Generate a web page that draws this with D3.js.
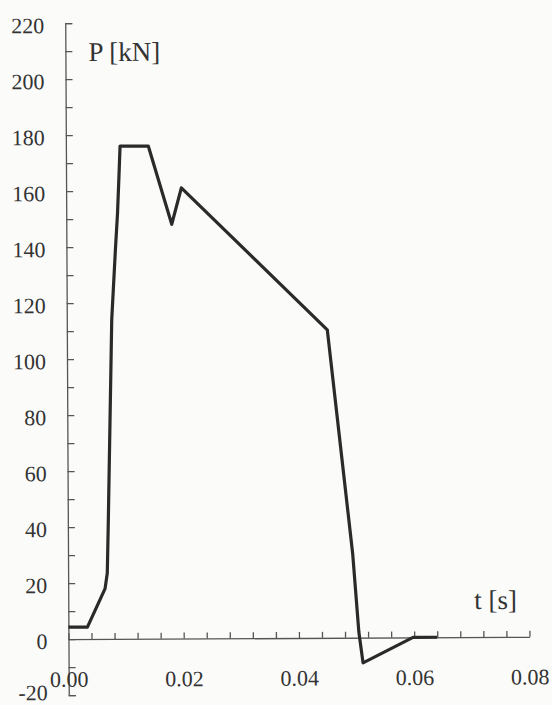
<!DOCTYPE html>
<html>
<head>
<meta charset="utf-8">
<script src="https://cdn.jsdelivr.net/npm/d3@7"></script>
<style>
  body { margin: 0; background: #fbfbfa; }
  svg { display: block; }
  text { font-family: "Liberation Serif", "Times New Roman", serif; fill: #333; }
</style>
</head>
<body>
<svg width="552" height="705"></svg>
<script>
// time [s] and force [kN]
const timeVals  = [0, 0.0033, 0.0064, 0.0068, 0.0070, 0.0078, 0.0085, 0.0089, 0.0092, 0.0094,
                   0.0143, 0.0183, 0.0200, 0.0452, 0.0473, 0.0494, 0.0504, 0.0511, 0.0598, 0.0640];
const forceVals = [4.3, 4.3, 18, 23.6, 40, 114, 139, 152, 166, 176,
                   176, 148, 161, 110, 70, 30, 2, -9, 0, 0];

const xTicks = d3.range(0, 0.0801, 0.004);
const yTicks = d3.range(-20, 221, 10);
const xLabelTicks = [0, 0.02, 0.04, 0.06, 0.08];
const yLabelTicks = [-20, 0, 20, 40, 60, 80, 100, 120, 140, 160, 180, 200, 220];

const data = timeVals.map((t, i) => ({ t: t, p: forceVals[i] }));

const x = d3.scaleLinear().domain([0, 0.08]).range([67, 528]);
const y = d3.scaleLinear().domain([-20, 220]).range([694, 22]);

const svg = d3.select("svg");
const g = svg.append("g").attr("transform", "rotate(-0.3,298,360)");

// y axis, ticks pointing into the plot
const yAxis = g.append("g")
  .attr("transform", "translate(" + x(0) + ",0)")
  .call(d3.axisLeft(y)
    .tickValues(yTicks)
    .tickSizeInner(-7)
    .tickSizeOuter(-7)
    .tickPadding(21)
    .tickFormat(d => yLabelTicks.includes(Math.round(d)) ? String(Math.round(d)) : ""));

// x axis through P = 0
const xAxis = g.append("g")
  .attr("transform", "translate(0," + y(0) + ")")
  .call(d3.axisBottom(x)
    .tickValues(xTicks)
    .tickSizeInner(-6)
    .tickSizeOuter(0)
    .tickPadding(32)
    .tickFormat(d => xLabelTicks.some(v => Math.abs(v - d) < 1e-9) ? d.toFixed(2) : ""));

[yAxis, xAxis].forEach(a => {
  a.selectAll("path, line").attr("stroke", "#555").attr("stroke-width", 1.3);
  a.selectAll("text").attr("font-size", 22).attr("fill", "#333")
    .style("font-family", "'Liberation Serif', serif");
});
yAxis.selectAll("text").attr("dy", d => d === -20 ? "0.2em" : "0.42em");

// force curve
g.append("path")
  .datum(data)
  .attr("fill", "none")
  .attr("stroke", "#2a2a2a")
  .attr("stroke-width", 3.2)
  .attr("stroke-linejoin", "round")
  .attr("d", d3.line().x(d => x(d.t)).y(d => y(d.p)));

// axis titles
g.append("text")
  .attr("x", x(0) + 23)
  .attr("y", 60)
  .attr("font-size", 27)
  .text("P [kN]");

g.append("text")
  .attr("x", 473)
  .attr("y", 610)
  .attr("font-size", 27)
  .text("t [s]");
</script>
</body>
</html>
